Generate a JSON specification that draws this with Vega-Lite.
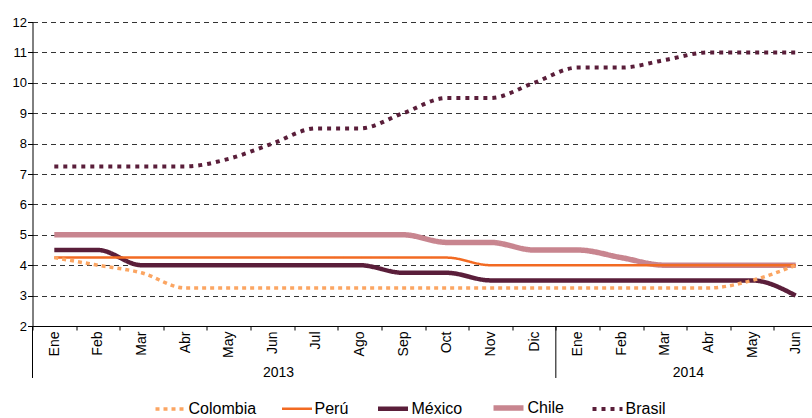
{
  "$schema": "https://vega.github.io/schema/vega-lite/v6.json",
  "width": 779.5,
  "height": 304,
  "autosize": {"type": "none"},
  "padding": {"left": 32.5, "top": 22, "right": 0, "bottom": 92},
  "background": "white",
  "config": {
    "view": {"stroke": null},
    "font": "Liberation Sans",
    "axis": {"labelColor": "#000", "domainColor": "#000", "tickColor": "#000"}
  },
  "encoding": {
    "x": {
      "field": "mes",
      "type": "ordinal",
      "scale": {"type": "band", "paddingInner": 0, "paddingOuter": 0, "range": [0, 785]},
      "axis": {
        "title": null,
        "tickBand": "extent",
        "labelAngle": -90,
        "labelExpr": "substring('EneFebMarAbrMayJunJulAgoSepOctNovDic', (toNumber(substring(datum.value, 5, 7)) - 1) * 3, toNumber(substring(datum.value, 5, 7)) * 3)",
        "labelFontSize": 14,
        "tickSize": 4,
        "labelPadding": 1,
        "grid": false
      }
    },
    "y": {
      "type": "quantitative",
      "scale": {"domain": [2, 12], "nice": false, "zero": false},
      "axis": {
        "title": null,
        "values": [2, 3, 4, 5, 6, 7, 8, 9, 10, 11, 12],
        "grid": true,
        "gridDash": [5, 4],
        "gridColor": "#333",
        "gridWidth": 1,
        "tickSize": 5,
        "labelFontSize": 13,
        "labelPadding": 1
      }
    }
  },
  "layer": [
    {
      "data": {
        "values": [
          {"mes": "2013-01", "pais": "Chile", "tasa": 5},
          {"mes": "2013-02", "pais": "Chile", "tasa": 5},
          {"mes": "2013-03", "pais": "Chile", "tasa": 5},
          {"mes": "2013-04", "pais": "Chile", "tasa": 5},
          {"mes": "2013-05", "pais": "Chile", "tasa": 5},
          {"mes": "2013-06", "pais": "Chile", "tasa": 5},
          {"mes": "2013-07", "pais": "Chile", "tasa": 5},
          {"mes": "2013-08", "pais": "Chile", "tasa": 5},
          {"mes": "2013-09", "pais": "Chile", "tasa": 5},
          {"mes": "2013-10", "pais": "Chile", "tasa": 4.75},
          {"mes": "2013-11", "pais": "Chile", "tasa": 4.75},
          {"mes": "2013-12", "pais": "Chile", "tasa": 4.5},
          {"mes": "2014-01", "pais": "Chile", "tasa": 4.5},
          {"mes": "2014-02", "pais": "Chile", "tasa": 4.25},
          {"mes": "2014-03", "pais": "Chile", "tasa": 4},
          {"mes": "2014-04", "pais": "Chile", "tasa": 4},
          {"mes": "2014-05", "pais": "Chile", "tasa": 4},
          {"mes": "2014-06", "pais": "Chile", "tasa": 4},
          {"mes": "2013-01", "pais": "México", "tasa": 4.5},
          {"mes": "2013-02", "pais": "México", "tasa": 4.5},
          {"mes": "2013-03", "pais": "México", "tasa": 4},
          {"mes": "2013-04", "pais": "México", "tasa": 4},
          {"mes": "2013-05", "pais": "México", "tasa": 4},
          {"mes": "2013-06", "pais": "México", "tasa": 4},
          {"mes": "2013-07", "pais": "México", "tasa": 4},
          {"mes": "2013-08", "pais": "México", "tasa": 4},
          {"mes": "2013-09", "pais": "México", "tasa": 3.75},
          {"mes": "2013-10", "pais": "México", "tasa": 3.75},
          {"mes": "2013-11", "pais": "México", "tasa": 3.5},
          {"mes": "2013-12", "pais": "México", "tasa": 3.5},
          {"mes": "2014-01", "pais": "México", "tasa": 3.5},
          {"mes": "2014-02", "pais": "México", "tasa": 3.5},
          {"mes": "2014-03", "pais": "México", "tasa": 3.5},
          {"mes": "2014-04", "pais": "México", "tasa": 3.5},
          {"mes": "2014-05", "pais": "México", "tasa": 3.5},
          {"mes": "2014-06", "pais": "México", "tasa": 3},
          {"mes": "2013-01", "pais": "Perú", "tasa": 4.25},
          {"mes": "2013-02", "pais": "Perú", "tasa": 4.25},
          {"mes": "2013-03", "pais": "Perú", "tasa": 4.25},
          {"mes": "2013-04", "pais": "Perú", "tasa": 4.25},
          {"mes": "2013-05", "pais": "Perú", "tasa": 4.25},
          {"mes": "2013-06", "pais": "Perú", "tasa": 4.25},
          {"mes": "2013-07", "pais": "Perú", "tasa": 4.25},
          {"mes": "2013-08", "pais": "Perú", "tasa": 4.25},
          {"mes": "2013-09", "pais": "Perú", "tasa": 4.25},
          {"mes": "2013-10", "pais": "Perú", "tasa": 4.25},
          {"mes": "2013-11", "pais": "Perú", "tasa": 4},
          {"mes": "2013-12", "pais": "Perú", "tasa": 4},
          {"mes": "2014-01", "pais": "Perú", "tasa": 4},
          {"mes": "2014-02", "pais": "Perú", "tasa": 4},
          {"mes": "2014-03", "pais": "Perú", "tasa": 4},
          {"mes": "2014-04", "pais": "Perú", "tasa": 4},
          {"mes": "2014-05", "pais": "Perú", "tasa": 4},
          {"mes": "2014-06", "pais": "Perú", "tasa": 4},
          {"mes": "2013-01", "pais": "Colombia", "tasa": 4.25},
          {"mes": "2013-02", "pais": "Colombia", "tasa": 4},
          {"mes": "2013-03", "pais": "Colombia", "tasa": 3.75},
          {"mes": "2013-04", "pais": "Colombia", "tasa": 3.25},
          {"mes": "2013-05", "pais": "Colombia", "tasa": 3.25},
          {"mes": "2013-06", "pais": "Colombia", "tasa": 3.25},
          {"mes": "2013-07", "pais": "Colombia", "tasa": 3.25},
          {"mes": "2013-08", "pais": "Colombia", "tasa": 3.25},
          {"mes": "2013-09", "pais": "Colombia", "tasa": 3.25},
          {"mes": "2013-10", "pais": "Colombia", "tasa": 3.25},
          {"mes": "2013-11", "pais": "Colombia", "tasa": 3.25},
          {"mes": "2013-12", "pais": "Colombia", "tasa": 3.25},
          {"mes": "2014-01", "pais": "Colombia", "tasa": 3.25},
          {"mes": "2014-02", "pais": "Colombia", "tasa": 3.25},
          {"mes": "2014-03", "pais": "Colombia", "tasa": 3.25},
          {"mes": "2014-04", "pais": "Colombia", "tasa": 3.25},
          {"mes": "2014-05", "pais": "Colombia", "tasa": 3.5},
          {"mes": "2014-06", "pais": "Colombia", "tasa": 4},
          {"mes": "2013-01", "pais": "Brasil", "tasa": 7.25},
          {"mes": "2013-02", "pais": "Brasil", "tasa": 7.25},
          {"mes": "2013-03", "pais": "Brasil", "tasa": 7.25},
          {"mes": "2013-04", "pais": "Brasil", "tasa": 7.25},
          {"mes": "2013-05", "pais": "Brasil", "tasa": 7.5},
          {"mes": "2013-06", "pais": "Brasil", "tasa": 8},
          {"mes": "2013-07", "pais": "Brasil", "tasa": 8.5},
          {"mes": "2013-08", "pais": "Brasil", "tasa": 8.5},
          {"mes": "2013-09", "pais": "Brasil", "tasa": 9},
          {"mes": "2013-10", "pais": "Brasil", "tasa": 9.5},
          {"mes": "2013-11", "pais": "Brasil", "tasa": 9.5},
          {"mes": "2013-12", "pais": "Brasil", "tasa": 10},
          {"mes": "2014-01", "pais": "Brasil", "tasa": 10.5},
          {"mes": "2014-02", "pais": "Brasil", "tasa": 10.5},
          {"mes": "2014-03", "pais": "Brasil", "tasa": 10.75},
          {"mes": "2014-04", "pais": "Brasil", "tasa": 11},
          {"mes": "2014-05", "pais": "Brasil", "tasa": 11},
          {"mes": "2014-06", "pais": "Brasil", "tasa": 11}
        ]
      },
      "mark": {"type": "line", "interpolate": "monotone"},
      "encoding": {
        "y": {"field": "tasa", "type": "quantitative"},
        "color": {
          "field": "pais",
          "type": "nominal",
          "scale": {
            "domain": ["Colombia", "Perú", "México", "Chile", "Brasil"],
            "range": ["#FBA562", "#F26A22", "#5A1E3A", "#C8858F", "#5A1E3A"]
          },
          "legend": {
            "orient": "none",
            "legendX": 121,
            "legendY": 368,
            "direction": "horizontal",
            "title": null,
            "symbolType": "stroke",
            "symbolSize": 900,
            "labelFontSize": 16,
            "labelColor": "#000",
            "columnPadding": 20,
            "labelOffset": 1
          }
        },
        "strokeDash": {
          "field": "pais",
          "type": "nominal",
          "scale": {
            "domain": ["Colombia", "Perú", "México", "Chile", "Brasil"],
            "range": [[4, 4], [1, 0], [1, 0], [1, 0], [4, 5]]
          }
        },
        "strokeWidth": {
          "field": "pais",
          "type": "nominal",
          "scale": {
            "type": "ordinal",
            "domain": ["Colombia", "Perú", "México", "Chile", "Brasil"],
            "range": [3.5, 2.5, 4.5, 5.5, 4]
          }
        }
      }
    },
    {
      "data": {"values": [{"mes": "2013-01"}, {"mes": "2014-01"}]},
      "mark": {"type": "rule", "color": "#000", "strokeWidth": 1},
      "encoding": {
        "x": {"field": "mes", "type": "ordinal", "bandPosition": 0},
        "y": {"datum": 2},
        "y2": {"datum": 0.29}
      }
    },
    {
      "data": {"values": [{"mes": "2013-06", "anio": "2013"}]},
      "mark": {"type": "text", "fontSize": 14, "color": "#000", "baseline": "middle", "align": "center"},
      "encoding": {
        "x": {"field": "mes", "type": "ordinal", "bandPosition": 0.64},
        "y": {"datum": 0.45},
        "text": {"field": "anio"}
      }
    },
    {
      "data": {"values": [{"mes": "2014-04", "anio": "2014"}]},
      "mark": {"type": "text", "fontSize": 14, "color": "#000", "baseline": "middle", "align": "center"},
      "encoding": {
        "x": {"field": "mes", "type": "ordinal", "bandPosition": 0.04},
        "y": {"datum": 0.45},
        "text": {"field": "anio"}
      }
    }
  ]
}
